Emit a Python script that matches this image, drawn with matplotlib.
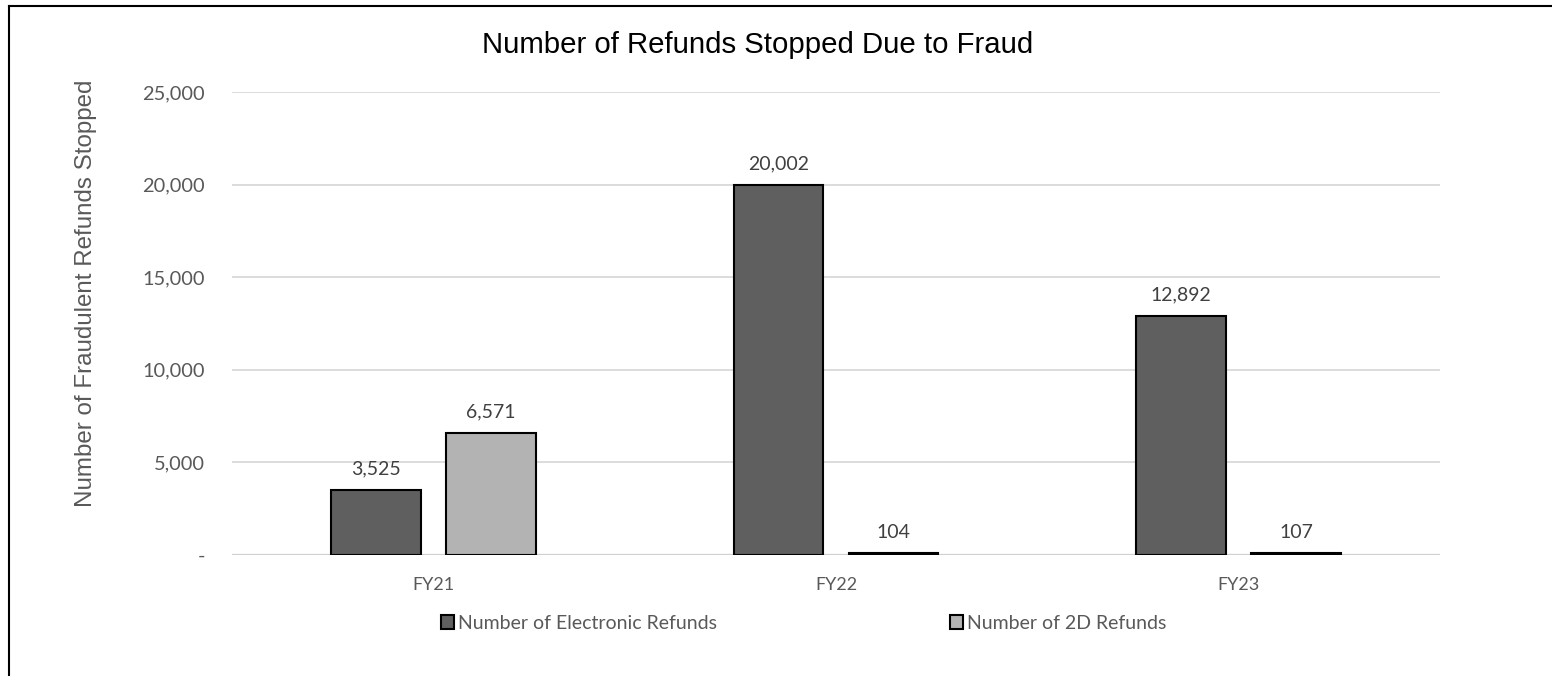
import matplotlib.pyplot as plt
from matplotlib.lines import Line2D
from matplotlib.patches import Patch
import numpy as np

years = ['FY21', 'FY22', 'FY23']
electronic = [3525, 20002, 12892]
two_d = [6571, 104, 107]
yticks = [0, 5000, 10000, 15000, 20000, 25000]

dark = '#5f5f5f'
light = '#b3b3b3'
label_font = 'Lato'

fig = plt.figure(figsize=(15.52, 6.76), dpi=100)
ax = fig.add_axes([0.1495, 0.179, 0.9278 - 0.1495, 0.864 - 0.179])

x = np.arange(len(years))
w = 0.223
off = 0.143
b1 = ax.bar(x - off, electronic, w, color=dark, edgecolor='black', linewidth=1.5, zorder=3)
b2 = ax.bar(x + off, two_d, w, color=light, edgecolor='black', linewidth=1.5, zorder=3)

for bars, vals in ((b1, electronic), (b2, two_d)):
    for b, v in zip(bars, vals):
        ax.annotate(f'{v:,}', (b.get_x() + b.get_width() / 2, v), xytext=(0, 9),
                    textcoords='offset points', ha='center', va='bottom',
                    fontsize=14, color='#404040', family=label_font)

ax.set_xlim(-0.5, 2.5)
ax.set_ylim(0, 25000)
ax.set_xticks(x)
ax.set_xticklabels(years, fontsize=13, color='#595959', family=label_font)
ax.set_yticks(yticks)
ax.set_yticklabels(['-' if t == 0 else f'{t:,}' for t in yticks], fontsize=14.4,
                   color='#595959', family=label_font)
ax.tick_params(length=0)
ax.tick_params(axis='x', pad=16)
ax.tick_params(axis='y', pad=19.5)
ax.grid(axis='y', color='#d9d9d9', linewidth=1.3, zorder=0)
for s in ax.spines.values():
    s.set_visible(False)
ax.axhline(0, color='#d0d0d0', linewidth=1.6, zorder=2)

ax.set_ylabel('Number of Fraudulent Refunds Stopped', fontsize=17.4, color='#595959',
              family='Liberation Sans')
ax.yaxis.set_label_coords(-0.1118, 0.565)
fig.text(0.488, 0.933, 'Number of Refunds Stopped Due to Fraud', ha='center', va='center',
         fontsize=21.2, color='black', family='Liberation Sans')

handles = [Patch(facecolor=dark, edgecolor='black', linewidth=1.5),
           Patch(facecolor=light, edgecolor='black', linewidth=1.5)]
fig.legend(handles, ['Number of Electronic Refunds', 'Number of 2D Refunds'],
           loc='center', bbox_to_anchor=(0.518, 0.078), ncol=2, frameon=False,
           prop={'family': label_font, 'size': 14}, labelcolor='#595959',
           handlelength=0.67, handleheight=0.67, handletextpad=0.2, columnspacing=12)

# outer border (left and top only visible)
fig.add_artist(Line2D([0.0055, 0.0055], [0, 0.991], transform=fig.transFigure, color='black', linewidth=1.5))
fig.add_artist(Line2D([0.0055, 1], [0.991, 0.991], transform=fig.transFigure, color='black', linewidth=1.5))

fig.savefig('out.png', dpi=100)
